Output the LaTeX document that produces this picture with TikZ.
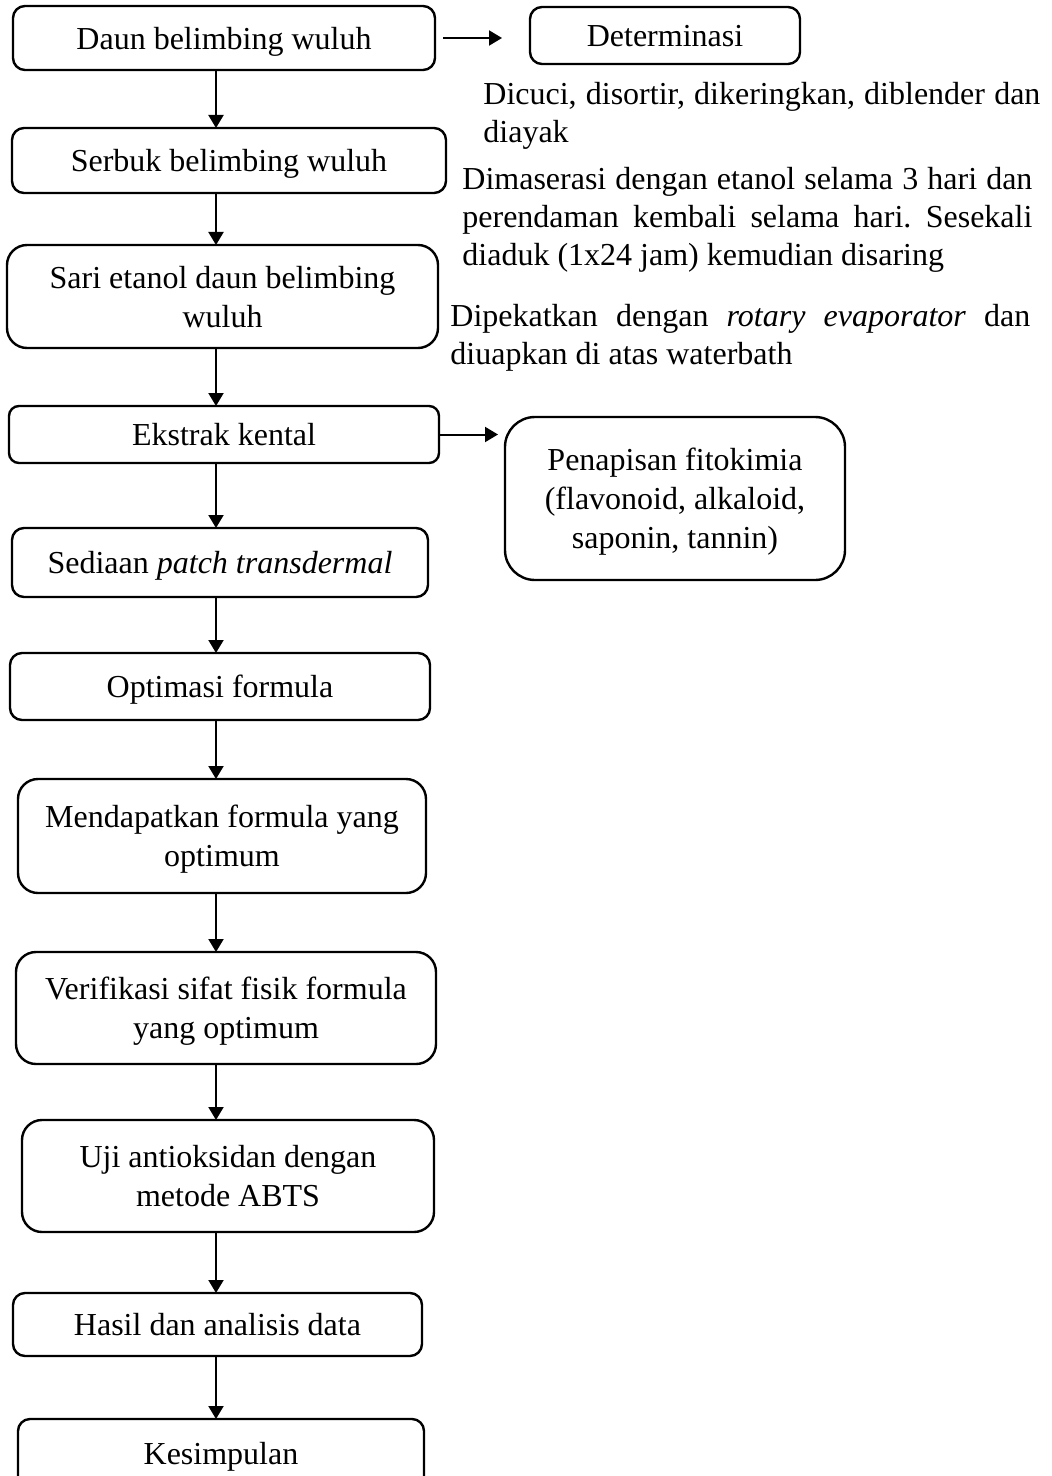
\documentclass[tikz,border=0pt]{standalone}
\usepackage{fontspec}
\setmainfont{Liberation Serif}
\usetikzlibrary{arrows.meta, positioning}
\hyphenpenalty=10000
\frenchspacing

\begin{document}
\begin{tikzpicture}[
    node distance=29pt,
    box/.style={draw, rounded corners=6pt, line width=1.2pt, outer sep=0pt, align=center, inner sep=2pt, text depth=0pt, font=\fontsize{16pt}{19.5pt}\selectfont},
    bigbox/.style={box, rounded corners=10pt},
    note/.style={anchor=west, inner sep=0pt, align=justify, font=\fontsize{16pt}{19pt}\selectfont},
    arrow/.style={-{Triangle[length=6.5pt, width=7.5pt]}, line width=1pt}
]
\useasboundingbox (0,0) rectangle (526pt,-738pt);
\coordinate (col) at (108pt,0);

\node[box, minimum width=211pt, minimum height=32pt] (s1) at (112pt,-19pt) {Daun belimbing wuluh};
\node[box, minimum width=217pt, minimum height=32.5pt, below=29pt of s1, xshift=2.5pt] (s2) {Serbuk belimbing wuluh};
\node[bigbox, minimum width=215.5pt, minimum height=51.5pt, below=26pt of s2, xshift=-3.25pt] (s3) {Sari etanol daun belimbing\\wuluh};
\node[box, rounded corners=5pt, minimum width=215pt, minimum height=28.5pt, below=29pt of s3, xshift=0.75pt] (s4) {Ekstrak kental};
\node[box, minimum width=208pt, minimum height=34.5pt, below=32.5pt of s4, xshift=-2pt] (s5) {Sediaan \textit{patch transdermal}};
\node[box, minimum width=210pt, minimum height=33.5pt, below=28pt of s5] (s6) {Optimasi formula};
\node[bigbox, minimum width=204pt, minimum height=57pt, below=29.5pt of s6, xshift=1pt] (s7) {Mendapatkan formula yang\\optimum};
\node[bigbox, minimum width=210pt, minimum height=56pt, below=29.5pt of s7, xshift=2pt] (s8) {Verifikasi sifat fisik formula\\yang optimum};
\node[bigbox, minimum width=206pt, minimum height=56pt, below=28pt of s8, xshift=1pt] (s9) {Uji antioksidan dengan\\metode ABTS};
\node[box, minimum width=204.5pt, minimum height=31.5pt, below=30.5pt of s9, xshift=-5.25pt] (s10) {Hasil dan analisis data};
\node[box, minimum width=203pt, minimum height=34.5pt, below=31.5pt of s10, xshift=1.75pt] (s11) {Kesimpulan};

\node[box, minimum width=135pt, minimum height=28.5pt, right=47.5pt of s1, yshift=1.25pt] (det) {Determinasi};
\node[box, rounded corners=15pt, minimum width=170pt, minimum height=81.5pt, right=33pt of s4, yshift=-32pt] (pen) {Penapisan fitokimia\\(flavonoid, alkaloid,\\saponin, tannin)};

\node[note, text width=278.5pt] (t1) at (241.5pt,-58pt) {Dicuci, disortir, dikeringkan, diblender dan diayak};
\node[note, text width=285pt] (t2) at (231pt,-110pt) {Dimaserasi dengan etanol selama 3 hari dan perendaman kembali selama hari. Sesekali diaduk (1x24 jam) kemudian disaring};
\node[note, text width=290pt] (t3) at (225pt,-169pt) {Dipekatkan dengan \textit{rotary evaporator} dan diuapkan di atas waterbath};

\draw[arrow] (s1.south -| col) -- (s2.north -| col);
\draw[arrow] (s2.south -| col) -- (s3.north -| col);
\draw[arrow] (s3.south -| col) -- (s4.north -| col);
\draw[arrow] (s4.south -| col) -- (s5.north -| col);
\draw[arrow] (s5.south -| col) -- (s6.north -| col);
\draw[arrow] (s6.south -| col) -- (s7.north -| col);
\draw[arrow] (s7.south -| col) -- (s8.north -| col);
\draw[arrow] (s8.south -| col) -- (s9.north -| col);
\draw[arrow] (s9.south -| col) -- (s10.north -| col);
\draw[arrow] (s10.south -| col) -- (s11.north -| col);
\draw[arrow, shorten <=4pt, shorten >=14pt] (s1.east) -- (s1.east -| det.west);
\draw[arrow, shorten >=3.5pt] (s4.east) -- (s4.east -| pen.west);
\end{tikzpicture}
\end{document}
